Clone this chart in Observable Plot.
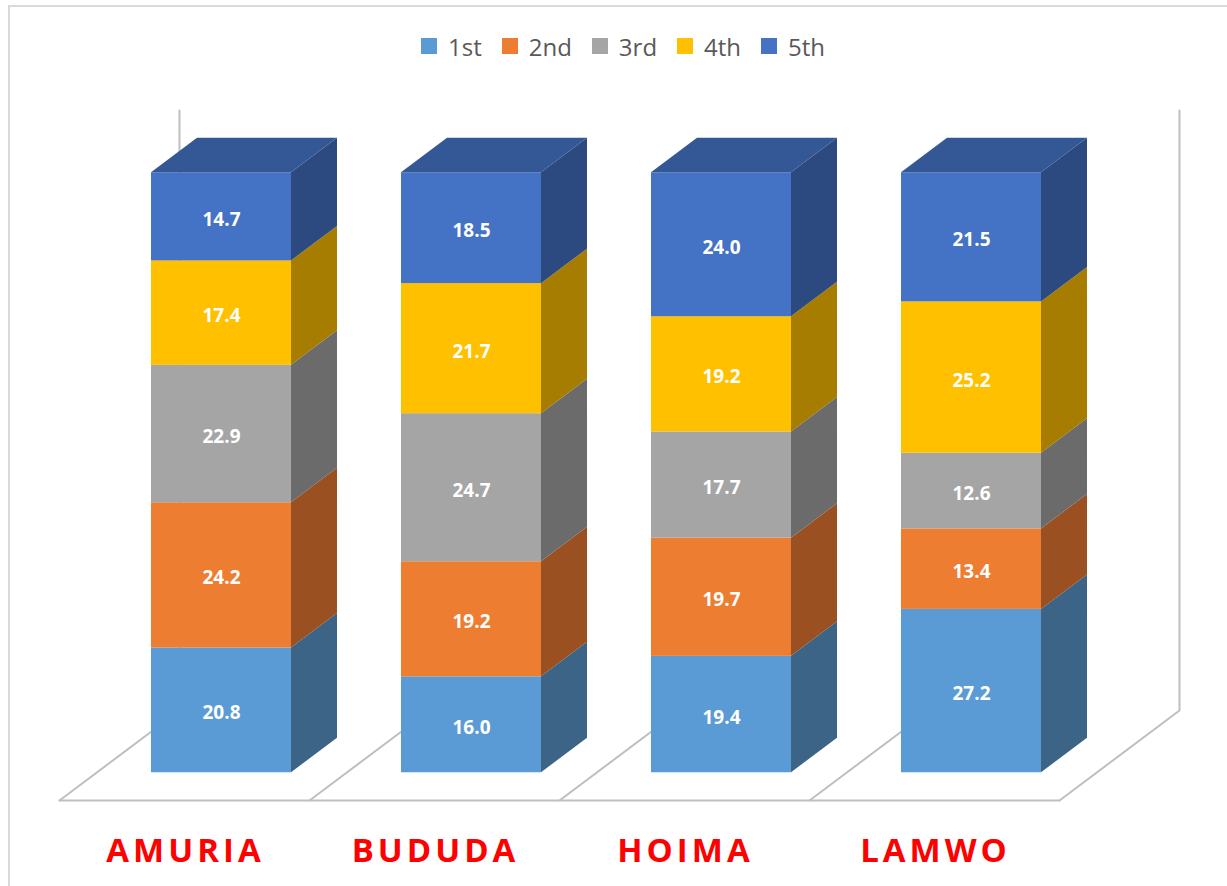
<!DOCTYPE html>
<html>
<head>
<meta charset="utf-8">
<script src="https://cdn.jsdelivr.net/npm/d3@7"></script>
<script src="https://cdn.jsdelivr.net/npm/@observablehq/plot@0.6"></script>
<style>
  body { margin: 0; background: #fff; }
  #wrap { position: relative; width: 1227px; height: 886px; overflow: hidden; font-family: "Open Sans", sans-serif; }
  #frame { position: absolute; left: 8px; top: 5px; width: 1400px; height: 1000px; border: 2px solid #d9d9d9; box-sizing: border-box; }
  #legend { position: absolute; left: 421px; top: 29px; height: 34px; display: flex; align-items: center; font-size: 24px; color: #595959; }
  #legend .item { display: flex; align-items: center; margin-right: 20px; }
  #legend .sw { width: 16px; height: 16px; margin-right: 11px; }
  #chart { position: absolute; left: 0; top: 0; }
  #chart g[aria-label="x-axis tick label"] { letter-spacing: 4px; }
</style>
</head>
<body>
<div id="wrap">
  <div id="frame"></div>
  <div id="chart"></div>
  <div id="legend"></div>
</div>
<script>
// ---- data ----
const categories = ["AMURIA", "BUDUDA", "HOIMA", "LAMWO"];
const seriesNames = ["1st", "2nd", "3rd", "4th", "5th"];
const first  = [20.8, 16.0, 19.4, 27.2];
const second = [24.2, 19.2, 19.7, 13.4];
const third  = [22.9, 24.7, 17.7, 12.6];
const fourth = [17.4, 21.7, 19.2, 25.2];
const fifth  = [14.7, 18.5, 24.0, 21.5];
const seriesValues = [first, second, third, fourth, fifth];

// ---- styles ----
const frontColors = ["#5B9BD5", "#ED7D31", "#A5A5A5", "#FFC000", "#4472C4"];
const sideColors  = ["#3B6487", "#9A5020", "#6B6B6B", "#A67D00", "#2C4A80"];
const topColor = "#345896";
const gridColor = "#BFBFBF";

// ---- 3D projection (category units, percent units) ----
const depthX = 0.48, depthY = 15;     // full floor depth
const wFront = 0.3083, wBack = 0.6917; // bar depth range
const barL = 0.22, barR = 0.78;       // bar extent within a category
const proj = (u, v, w) => ({x: u + depthX * w, y: v + depthY * w});

const fronts = [], sides = [], tops = [];
categories.forEach((cat, i) => {
  const total = d3.sum(seriesValues, s => s[i]);
  let cum = 0;
  seriesValues.forEach((s, k) => {
    const v0 = cum / total * 100;
    cum += s[i];
    const v1 = cum / total * 100;
    const a = proj(i + barL, v0, wFront), b = proj(i + barR, v1, wFront);
    fronts.push({x1: a.x, x2: b.x, y1: a.y, y2: b.y, cx: (a.x + b.x) / 2, cy: (a.y + b.y) / 2,
                 color: frontColors[k], label: s[i].toFixed(1)});
    const id = `${cat}-${k}`;
    [wFront, wBack].forEach(w => {
      const p = proj(i + barR, v0, w), q = proj(i + barR, v1, w);
      sides.push({id, x: p.x, y1: p.y, y2: q.y, color: sideColors[k]});
    });
  });
  [wFront, wBack].forEach(w => {
    const l = proj(i + barL, 100, w), r = proj(i + barR, 100, w);
    tops.push({id: cat, x1: l.x, x2: r.x, y: l.y});
  });
});

// floor & walls
const gridLines = [];
const addLine = (id, pts) => pts.forEach(([u, v, w]) => gridLines.push({id, ...proj(u, v, w)}));
addLine("front", [[0, 0, 0], [categories.length, 0, 0]]);
addLine("left", [[0, 0, 0], [0, 0, 1], [0, 100, 1]]);
addLine("right", [[categories.length, 0, 0], [categories.length, 0, 1], [categories.length, 100, 1]]);
for (let k = 1; k < categories.length; k++) addLine("div" + k, [[k, 0, 0], [k, 0, 1]]);

const chart = Plot.plot({
  width: 1227,
  height: 886,
  marginLeft: 59,
  marginRight: 168,
  marginTop: 200,
  marginBottom: 86,
  style: {background: "transparent", fontFamily: "Open Sans"},
  x: {type: "linear", domain: [0, categories.length], axis: null},
  y: {type: "linear", domain: [0, 100], axis: null},
  marks: [
    Plot.line(gridLines, {x: "x", y: "y", z: "id", stroke: gridColor, strokeWidth: 2}),
    Plot.area(sides, {x1: "x", y1: "y1", y2: "y2", z: "id", fill: "color"}),
    Plot.rect(fronts, {x1: "x1", x2: "x2", y1: "y1", y2: "y2", fill: "color"}),
    Plot.area(tops, {x1: "x1", x2: "x2", y1: "y", z: "id", fill: topColor}),
    Plot.text(fronts, {x: "cx", y: "cy", text: "label", fill: "white", fontWeight: "bold", fontSize: 19, dy: 3}),
    Plot.axisX({
      ticks: categories.map((d, i) => i + 0.5),
      tickFormat: d => categories[Math.floor(d)],
      tickSize: 0,
      tickPadding: 38,
      fontSize: 33,
      fontWeight: "bold",
      color: "#FF0000",
      label: null,
      dx: 1
    })
  ]
});
document.getElementById("chart").appendChild(chart);

// legend
const legend = d3.select("#legend");
seriesNames.forEach((name, k) => {
  const item = legend.append("div").attr("class", "item");
  item.append("div").attr("class", "sw").style("background", frontColors[k]);
  item.append("span").text(name);
});
</script>
</body>
</html>
